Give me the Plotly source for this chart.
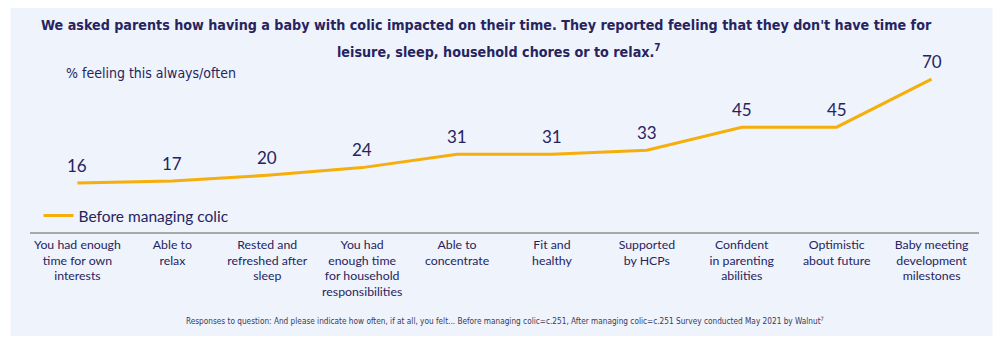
import plotly.graph_objects as go

categories = [
    "You had enough<br>time for own<br>interests",
    "Able to<br>relax",
    "Rested and<br>refreshed after<br>sleep",
    "You had<br>enough time<br>for household<br>responsibilities",
    "Able to<br>concentrate",
    "Fit and<br>healthy",
    "Supported<br>by HCPs",
    "Confident<br>in parenting<br>abilities",
    "Optimistic<br>about future",
    "Baby meeting<br>development<br>milestones",
]
before_values = [16, 17, 20, 24, 31, 31, 33, 45, 45, 70]
series_name = "Before managing colic"

title_line1 = "We asked parents how having a baby with colic impacted on their time. They reported feeling that they don't have time for"
title_line2 = "leisure, sleep, household chores or to relax.<sup>7</sup>"
subtitle = "% feeling this always/often"
footer = ("Responses to question: And please indicate how often, if at all, you felt... Before managing colic=c.251, "
          "After managing colic=c.251 Survey conducted May 2021 by Walnut<sup>7</sup>")

NAVY = "#26245f"
ORANGE = "#f5ae0a"
PANEL = "#eff3fb"
COND = "DejaVu Sans Condensed, sans-serif"
BODY = "Lato, Carlito, Calibri, sans-serif"

W, H = 1008, 345
ml, mr, mt, mb = 29.5, 28.5, 60, 113
pw = W - ml - mr
ph = H - mt - mb

def px2x(px):
    return (px - ml) / pw

def px2y(py):
    return (H - mb - py) / ph

fig = go.Figure()
fig.add_trace(go.Scatter(
    x=categories, y=before_values, name=series_name,
    mode="lines",
    line=dict(color=ORANGE, width=3),
    cliponaxis=False,
))

for c, v in zip(categories, before_values):
    fig.add_annotation(x=c, y=v, text=str(v), showarrow=False,
                       xanchor="center", yanchor="middle", yshift=18,
                       font=dict(family=BODY, size=17, color=NAVY))

fig.add_shape(type="rect", xref="paper", yref="paper",
              x0=px2x(10), x1=px2x(993), y0=px2y(336), y1=px2y(8),
              fillcolor=PANEL, line=dict(width=0), layer="below")

fig.add_annotation(text="<b>" + title_line1 + "</b>", xref="paper", yref="paper",
                   x=px2x(486), y=px2y(25), showarrow=False, xanchor="center", yanchor="middle",
                   font=dict(family=COND, size=14.2, color=NAVY))
fig.add_annotation(text="<b>" + title_line2 + "</b>", xref="paper", yref="paper",
                   x=px2x(499), y=px2y(51), showarrow=False, xanchor="center", yanchor="middle",
                   font=dict(family=COND, size=14.2, color=NAVY))
fig.add_annotation(text=subtitle, xref="paper", yref="paper",
                   x=px2x(64), y=px2y(73), showarrow=False, xanchor="left", yanchor="middle",
                   font=dict(family=COND, size=14, color=NAVY))
fig.add_annotation(text=footer, xref="paper", yref="paper",
                   x=px2x(505), y=px2y(321), showarrow=False, xanchor="center", yanchor="middle",
                   font=dict(family=COND, size=8.2, color="#3a3a5a"))

fig.update_layout(
    width=W, height=H,
    margin=dict(l=ml, r=mr, t=mt, b=mb, pad=0),
    paper_bgcolor="white", plot_bgcolor="rgba(0,0,0,0)",
    showlegend=True,
    legend=dict(x=px2x(38), y=px2y(216), xanchor="left", yanchor="middle",
                bgcolor="rgba(0,0,0,0)", font=dict(family=BODY, size=15.5, color=NAVY)),
    xaxis=dict(type="category", range=[-0.5, 9.5], showgrid=False, zeroline=False,
               showline=True, linecolor="#a8a8a8", linewidth=1.5, ticks="",
               tickfont=dict(family=BODY, size=12.3, color=NAVY)),
    yaxis=dict(range=[-9.44, 79.9], showgrid=False, zeroline=False, showticklabels=False,
               showline=False),
)

fig.write_html("out.html")
